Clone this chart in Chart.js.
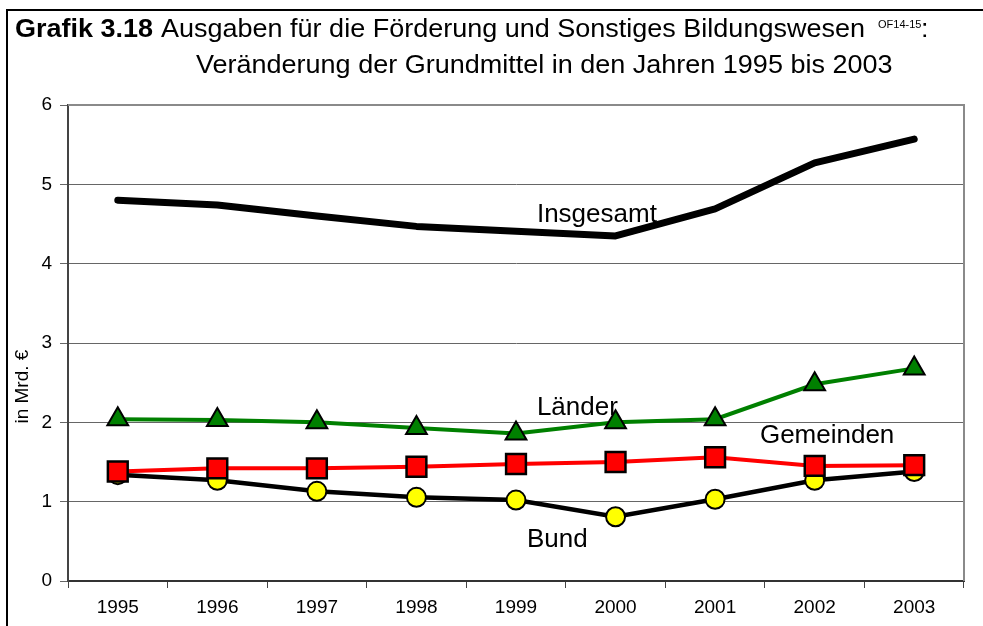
<!DOCTYPE html>
<html>
<head>
<meta charset="utf-8">
<script src="https://cdn.jsdelivr.net/npm/chart.js@4/dist/chart.umd.min.js"></script>
<style>
  body { margin: 0; background: #fff; }
  #wrap { position: relative; width: 983px; height: 626px; overflow: hidden; font-family: Arial, "Liberation Sans", sans-serif; color: #000; }
  #chart { position: absolute; left: 0; top: 0; }
  .frame { position: absolute; left: 6px; top: 9px; width: 1000px; height: 700px; border-left: 2px solid #000; border-top: 2px solid #000; }
  .t { position: absolute; white-space: nowrap; line-height: 1; transform-origin: 0 0; transform: scaleX(1.08); }
</style>
</head>
<body>
<div id="wrap">
  <canvas id="chart" width="983" height="626"></canvas>
  <div class="frame"></div>
  <div class="t" style="left:15px; top:16px; font-size:25px; font-weight:bold;">Grafik 3.18</div>
  <div class="t" style="left:161px; top:16px; font-size:25px;">Ausgaben für die Förderung und Sonstiges Bildungswesen</div>
  <div class="t" style="left:878px; top:19px; font-size:11px; transform:none;">OF14-15</div>
  <div class="t" style="left:921px; top:16px; font-size:25px;">:</div>
  <div class="t" style="left:196px; top:52px; font-size:25px;">Veränderung der Grundmittel in den Jahren 1995 bis 2003</div>
</div>
<script>
// values, in Mrd. €
const years = ['1995', '1996', '1997', '1998', '1999', '2000', '2001', '2002', '2003'];
const insgesamt = [4.80, 4.74, 4.60, 4.47, 4.41, 4.35, 4.69, 5.27, 5.57];
const laender   = [2.04, 2.03, 2.00, 1.93, 1.86, 2.00, 2.04, 2.48, 2.68];
const gemeinden = [1.38, 1.42, 1.42, 1.44, 1.475, 1.50, 1.56, 1.45, 1.46];
const bund      = [1.34, 1.27, 1.13, 1.055, 1.02, 0.81, 1.03, 1.27, 1.38];

// series names written inside the plot: [text, category position, value]
const seriesLabels = [
  ['Insgesamt', 4.21, 4.525],
  ['Länder', 4.21, 2.09],
  ['Gemeinden', 6.45, 1.74],
  ['Bund', 4.11, 0.43]
];
const yTitle = 'in Mrd. €';

const font = 'Arial, "Liberation Sans", sans-serif';

const plotFrame = {
  id: 'plotFrame',
  beforeDatasetsDraw(chart) {
    const a = chart.chartArea, ctx = chart.ctx;
    ctx.save();
    ctx.strokeStyle = '#8a8a8a';
    ctx.lineWidth = 2;
    ctx.beginPath();
    ctx.moveTo(a.left, a.top);
    ctx.lineTo(a.right, a.top);
    ctx.lineTo(a.right, a.bottom);
    ctx.stroke();
    ctx.restore();
  }
};

const inlineLabels = {
  id: 'inlineLabels',
  afterDatasetsDraw(chart) {
    const ctx = chart.ctx, x = chart.scales.x, y = chart.scales.y;
    ctx.save();
    ctx.font = '26px ' + font;
    ctx.fillStyle = '#000';
    ctx.textBaseline = 'alphabetic';
    seriesLabels.forEach(l => {
      ctx.fillText(l[0], x.getPixelForValue(l[1]), y.getPixelForValue(l[2]));
    });
    // axis title, sitting a bit below the middle like in the original
    ctx.font = '19px ' + font;
    ctx.translate(23, y.getPixelForValue(2.45));
    ctx.rotate(-Math.PI / 2);
    ctx.textAlign = 'center';
    ctx.textBaseline = 'middle';
    ctx.fillText(yTitle, 0, 0);
    ctx.restore();
  }
};

new Chart(document.getElementById('chart'), {
  type: 'line',
  data: {
    labels: years,
    datasets: [
      {
        label: 'Insgesamt', data: insgesamt,
        borderColor: '#000', borderWidth: 7, pointRadius: 0,
        borderCapStyle: 'round', borderJoinStyle: 'round'
      },
      {
        label: 'Länder', data: laender,
        borderColor: '#008000', borderWidth: 4,
        pointStyle: 'triangle', pointRadius: 12,
        pointBackgroundColor: '#008000', pointBorderColor: '#000', pointBorderWidth: 2
      },
      {
        label: 'Gemeinden', data: gemeinden,
        borderColor: '#ff0000', borderWidth: 4,
        pointStyle: 'rect', pointRadius: 14,
        pointBackgroundColor: '#ff0000', pointBorderColor: '#000', pointBorderWidth: 2.5
      },
      {
        label: 'Bund', data: bund,
        borderColor: '#000', borderWidth: 4.5,
        pointStyle: 'circle', pointRadius: 9.5,
        pointBackgroundColor: '#ffff00', pointBorderColor: '#000', pointBorderWidth: 2
      }
    ]
  },
  options: {
    responsive: false,
    animation: false,
    layout: { padding: { top: 105, right: 19, left: 0, bottom: 0 } },
    elements: { line: { tension: 0 } },
    plugins: { legend: { display: false }, tooltip: { enabled: false } },
    scales: {
      x: {
        offset: true,
        grid: { offset: true, drawOnChartArea: false, tickLength: 7, color: '#444' },
        border: { color: '#333', width: 2 },
        ticks: { color: '#000', font: { family: font, size: 19 }, padding: 8 },
        afterFit(s) { s.height = 45; }
      },
      y: {
        min: 0, max: 6,
        ticks: { stepSize: 1, color: '#000', font: { family: font, size: 19 }, padding: 8 },
        grid: { color: '#666', tickLength: 8 },
        border: { color: '#444', width: 2 },
        afterFit(s) { s.width = 68; }
      }
    }
  },
  plugins: [plotFrame, inlineLabels]
});
</script>
</body>
</html>
